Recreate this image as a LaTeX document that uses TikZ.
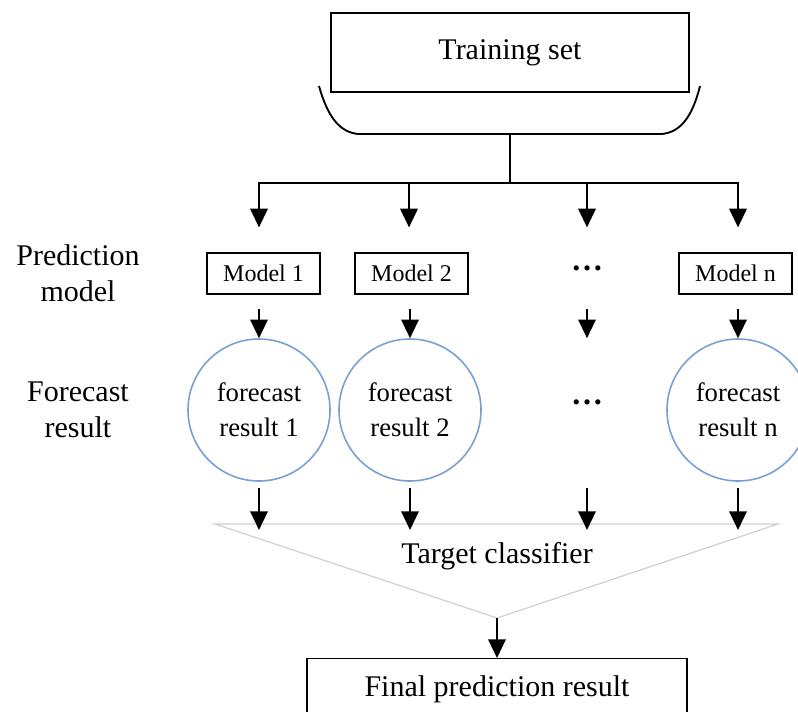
\documentclass[tikz,border=0pt]{standalone}
\usepackage{fontspec}
\setmainfont{Liberation Serif}
\usetikzlibrary{arrows.meta}

\definecolor{ringblue}{RGB}{122,160,210}
\definecolor{funnelgray}{RGB}{208,208,208}

\tikzset{
  box/.style={draw, line width=0.9pt, inner sep=0pt, align=center},
  modelbox/.style={box, minimum width=84.75pt, minimum height=30.75pt, font=\fontsize{18}{22}\selectfont},
  ring/.style={circle, draw=ringblue, line width=1.2pt, minimum size=106.5pt, inner sep=0pt,
    align=center, font=\fontsize{20}{26}\selectfont},
  sidelabel/.style={align=center, font=\fontsize{22.5}{27}\selectfont},
  bigtext/.style={font=\fontsize{22.5}{27}\selectfont},
  dotstext/.style={font=\fontsize{24}{26}\selectfont\bfseries},
  wire/.style={line width=1.7pt},
  arr/.style={line width=1.7pt, -{Triangle[length=14pt,width=13pt]}},
  funnel/.style={draw=funnelgray, line width=0.9pt}
}

\begin{document}
\begin{tikzpicture}[x=0.75pt,y=-0.75pt]
  \useasboundingbox (0,0) rectangle (798,711);

  % training set with its tray
  \node[box, minimum width=268.5pt, minimum height=59.25pt, font=\fontsize{22.5}{27}\selectfont]
    (ts) at (510,52.5) {Training set};
  \draw[line width=1.4pt] (319,86) .. controls (328,118) and (340,132) .. (358,134)
    -- (662,134) .. controls (680,132) and (692,118) .. (700,86);
  \coordinate (tsb) at (510,134);

  % distribution bus
  \coordinate (busc) at (510,183);
  \coordinate (t1) at (259,183);
  \coordinate (t2) at (409,183);
  \coordinate (t3) at (587,183);
  \coordinate (t4) at (738,183);
  \draw[wire] (tsb) -- (busc);
  \draw[wire, line cap=rect] (t1) -- (t4);

  % side labels
  \node[sidelabel] (lblpm) at (78,273) {Prediction\\model};
  \node[sidelabel] (lblfr) at (78,410) {Forecast\\result};

  % prediction models
  \node[modelbox] (m1) at (263.5,273.5) {Model 1};
  \node[modelbox] (m2) at (411.5,273.5) {Model 2};
  \node[dotstext] (d1) at (587,268) {\textellipsis};
  \node[modelbox] (mn) at (735.5,273.5) {Model n};

  \draw[arr] (t1) -- ([yshift=18.75pt]m1.north -| t1);
  \draw[arr] (t2) -- ([yshift=18.75pt]m1.north -| t2);
  \draw[arr] (t3) -- ([yshift=18.75pt]m1.north -| t3);
  \draw[arr] (t4) -- ([yshift=18.75pt]m1.north -| t4);

  % forecast results
  \node[ring] (f1) at (259,410) {forecast\\result 1};
  \node[ring] (f2) at (410,410) {forecast\\result 2};
  \node[dotstext] (d2) at (587,402) {\textellipsis};
  \node[ring] (fn) at (738,410) {forecast\\result n};

  \draw[arr] ([yshift=-10.5pt]m1.south -| f1.north) -- (f1.north);
  \draw[arr] ([yshift=-10.5pt]m2.south -| f2.north) -- (f2.north);
  \draw[arr] ([yshift=-10.5pt]m1.south -| d2) -- (f1.north -| d2);
  \draw[arr] ([yshift=-10.5pt]mn.south -| fn.north) -- (fn.north);

  % target classifier funnel
  \coordinate (fl) at (215,524);
  \coordinate (fr) at (778,524);
  \coordinate (apex) at (497,618);
  \draw[funnel] (fl) -- (fr) -- (apex) -- cycle;
  \node[bigtext] (tc) at (497,556) {Target classifier};

  \draw[arr] ([yshift=-4.5pt]f1.south) -- ([yshift=-4.5pt]fl -| f1);
  \draw[arr] ([yshift=-4.5pt]f2.south) -- ([yshift=-4.5pt]fl -| f2);
  \draw[arr] ([yshift=-4.5pt]f1.south -| d2) -- ([yshift=-4.5pt]fl -| d2);
  \draw[arr] ([yshift=-4.5pt]fn.south) -- ([yshift=-4.5pt]fl -| fn);

  % final result
  \node[box, minimum width=285pt, minimum height=46.5pt, font=\fontsize{22.5}{27}\selectfont,
    anchor=north] (final) at (497,658) {Final prediction result};
  \draw[arr] (apex) -- (final.north);
\end{tikzpicture}
\end{document}
